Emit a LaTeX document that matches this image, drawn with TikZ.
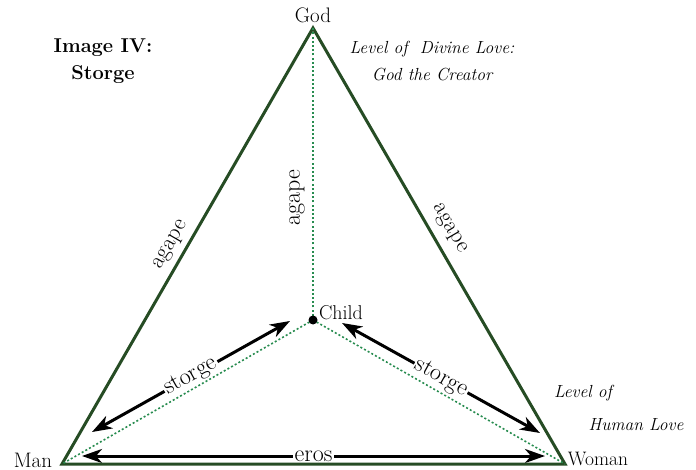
\documentclass[tikz,border=0pt]{standalone}
\usepackage{xcolor}
\usepackage{tikz}
\usetikzlibrary{arrows.meta}

\begin{document}
\begin{tikzpicture}[x=1pt, y=-1pt, every node/.style={font=\fontsize{20}{24}\selectfont}]

    % Colores
    \definecolor{verdeL}{RGB}{38,76,36}    % lados del triangulo
    \definecolor{verdeP}{RGB}{40,140,80}   % lineas punteadas
    \tikzset{
      lado/.style={draw=verdeL, line width=3pt},
      punteo/.style={draw=verdeP, line width=1.6pt, dash pattern=on 2pt off 2.2pt},
      flecha/.style={line width=3pt, {Stealth[length=20pt,width=14pt,inset=6pt]}-{Stealth[length=20pt,width=14pt,inset=6pt]}},
      rotulo/.style={fill=white, inner sep=1.5pt, font=\fontsize{24}{28}\selectfont},
      amor/.style={sloped, font=\fontsize{23}{26}\selectfont}
    }
    \useasboundingbox (0,0) rectangle (696,470);

    % Vertices
    \coordinate (god) at (313,28);
    \coordinate (man) at (62,464);
    \coordinate (woman) at (565,464);
    \coordinate (child) at (313,320);

    % Extremos de las flechas
    \coordinate (s1a) at (92,432);
    \coordinate (s1b) at (290,321);
    \coordinate (s2a) at (342,323);
    \coordinate (s2b) at (540,433);
    \coordinate (e1) at (82,456);
    \coordinate (e2) at (545,456);

    % Flechas
    \draw[flecha] (s1a) -- node[rotulo, sloped] {storge} (s1b);
    \draw[flecha] (s2a) -- node[rotulo, sloped] {storge} (s2b);
    \draw[flecha] (e1) -- node[rotulo] {eros} (e2);

    % Triangulo
    \draw[lado] (man) -- node[amor, above=2pt, pos=.486] {agape} (god)
                      -- node[amor, above=5pt, pos=.48] {agape} (woman) -- cycle;

    % Lineas punteadas al centro
    \draw[punteo] (child) -- node[amor, above=4pt, pos=.42, font=\fontsize{24}{27}\selectfont] {agape} (god);
    \draw[punteo] (child) -- (man);
    \draw[punteo] (child) -- (woman);
    \node[circle, fill, inner sep=0pt, minimum size=9pt] (cdot) at (child) {};

    % Nombres
    \node[font=\fontsize{21}{24}\selectfont] (tgod) at (313,15) {God};
    \node[font=\fontsize{21}{24}\selectfont] (tman) at (33,460) {Man};
    \node[font=\fontsize{19.5}{24}\selectfont] (twoman) at (598,459) {Woman};
    \node (tchild) at (341,313) {Child};

    % Textos
    \node[align=center, font=\fontsize{20}{27}\selectfont\bfseries] (titulo) at (103,61) {Image IV:\\Storge};
    \node[align=center, font=\fontsize{17.5}{27}\selectfont\itshape] (divino) at (432,61) {Level of \ Divine Love:\\God the Creator};
    \node[font=\fontsize{17.5}{21}\selectfont\itshape] (humano1) at (583,393) {Level of};
    \node[font=\fontsize{17.5}{21}\selectfont\itshape] (humano2) at (636,425) {Human Love};

\end{tikzpicture}
\end{document}
